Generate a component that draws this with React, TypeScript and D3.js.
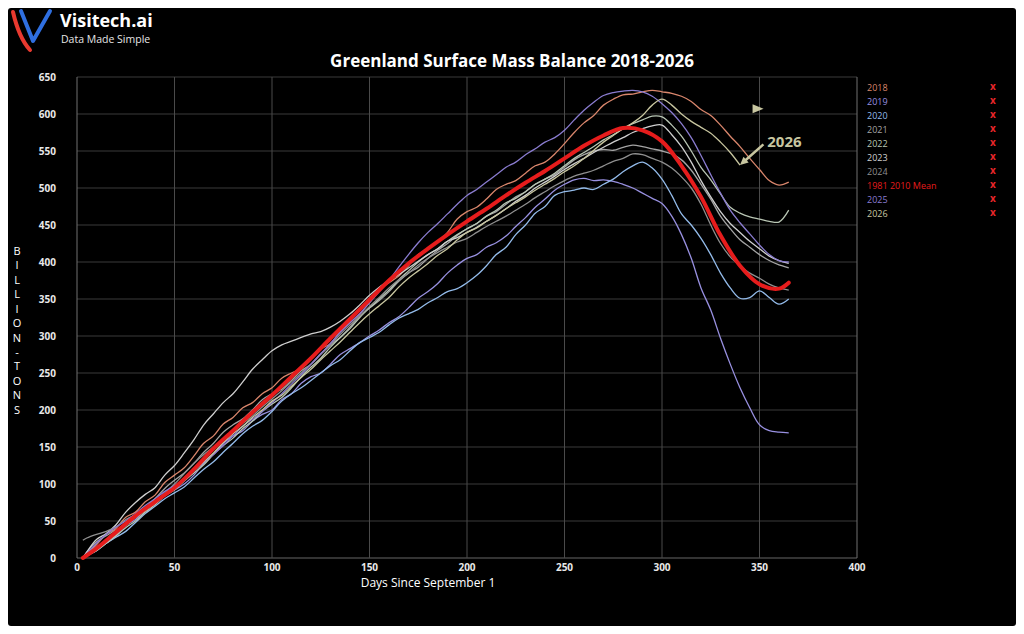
import * as d3 from 'd3'

// days since September 1: 3, then every 5 days up to 365
const DAYS = [3, ...d3.range(5, 366, 5)]
// the 1981-2010 mean was read every 10 days
const MEAN_DAYS = [3, 10, 20, 30, 40, 50, 60, 70, 80, 90, 100, 110, 120, 130, 140, 150, 160, 170, 180, 190, 200, 210, 220, 230, 240, 250, 260, 270, 280, 290, 300, 310, 320, 330, 340, 350, 360, 365]
const MEAN_1981_2010 = [0, 13, 35, 57, 76, 95, 120, 148, 172, 197, 220, 245, 270, 297, 323, 349, 375, 398, 418, 437, 455, 472, 490, 507, 523, 540, 557, 571, 581, 578, 563, 530, 488, 436, 395, 370, 364, 372]

// rows: days 3..45 / 50..95 / 100..145 / 150..195 / 200..245 / 250..295 / 300..345 / 350..365
const Y2018 = [
  0, 6, 18, 32, 40, 55, 62, 76, 85, 102,
  112, 122, 138, 155, 165, 181, 190, 203, 210, 222,
  230, 243, 250, 256, 268, 282, 290, 306, 318, 330,
  345, 362, 372, 381, 395, 410, 418, 427, 440, 458,
  468, 474, 485, 498, 505, 510, 520, 530, 535, 546,
  560, 575, 588, 598, 612, 620, 626, 627, 630, 632,
  630, 628, 624, 617, 606, 598, 585, 570, 556, 540,
  525, 510, 504, 508,
]
const Y2019 = [
  0, 4, 15, 20, 30, 44, 52, 65, 74, 86,
  92, 100, 112, 128, 140, 155, 165, 172, 185, 194,
  200, 214, 222, 236, 245, 250, 262, 275, 283, 291,
  300, 308, 318, 326, 338, 351, 360, 371, 385, 396,
  405, 410, 420, 426, 435, 448, 460, 474, 485, 497,
  505, 511, 513, 510, 511, 509, 505, 500, 493, 486,
  479, 462, 437, 405, 365, 335, 297, 262, 230, 203,
  180, 172, 170, 169,
]
const Y2020 = [
  0, 3, 10, 20, 28, 36, 48, 60, 70, 80,
  88, 96, 108, 120, 130, 143, 155, 168, 178, 186,
  198, 212, 222, 230, 240, 250, 260, 268, 280, 291,
  298, 305, 315, 324, 330, 336, 345, 352, 360, 364,
  372, 382, 395, 410, 420, 437, 450, 466, 475, 490,
  495, 497, 500, 498, 505, 512, 522, 530, 535, 527,
  512, 490, 465, 450, 432, 410, 385, 365, 351, 352,
  361, 352, 343, 350,
]
const Y2021 = [
  0, 8, 22, 30, 38, 44, 55, 68, 80, 94,
  105, 115, 128, 143, 155, 170, 180, 188, 200, 214,
  222, 228, 240, 253, 262, 276, 288, 298, 312, 327,
  338, 348, 360, 374, 385, 393, 405, 416, 425, 436,
  445, 452, 462, 468, 478, 488, 495, 505, 512, 518,
  528, 538, 545, 550, 552, 551, 555, 558, 556, 553,
  550, 546, 538, 524, 505, 485, 462, 445, 430, 420,
  410, 402, 396, 392,
]
const Y2022 = [
  0, 3, 10, 20, 30, 41, 50, 62, 72, 84,
  92, 104, 115, 126, 140, 152, 162, 175, 185, 198,
  208, 217, 230, 245, 258, 270, 285, 298, 310, 325,
  338, 350, 362, 376, 388, 400, 410, 418, 428, 437,
  445, 452, 462, 470, 480, 486, 495, 505, 512, 520,
  530, 540, 548, 556, 565, 572, 580, 587, 592, 597,
  596, 585, 570, 550, 528, 511, 492, 474, 466, 461,
  458, 455, 454, 470,
]
const Y2023 = [
  0, 8, 25, 33, 45, 62, 75, 86, 95, 112,
  125, 142, 160, 180, 195, 210, 222, 238, 255, 268,
  280, 288, 293, 298, 303, 306, 312, 320, 330, 342,
  355, 366, 375, 383, 392, 401, 410, 418, 428, 433,
  440, 447, 455, 463, 472, 482, 490, 500, 508, 516,
  525, 533, 540, 548, 555, 562, 568, 575, 580, 584,
  585, 572, 556, 535, 510, 488, 468, 452, 440, 428,
  418, 408, 402, 398,
]
const Y2024 = [
  24, 27, 32, 36, 42, 52, 58, 64, 75, 88,
  100, 114, 128, 140, 150, 160, 170, 182, 192, 204,
  215, 226, 238, 250, 262, 275, 288, 302, 315, 327,
  340, 352, 365, 376, 385, 396, 405, 413, 420, 427,
  432, 440, 448, 455, 462, 470, 478, 487, 495, 503,
  510, 516, 520, 524, 530, 536, 540, 546, 545, 540,
  535, 527, 515, 500, 478, 450, 425, 407, 395, 385,
  378, 370, 365, 362,
]
const Y2025 = [
  0, 6, 20, 32, 42, 50, 60, 71, 80, 90,
  98, 107, 118, 130, 140, 152, 165, 178, 188, 198,
  210, 222, 235, 248, 262, 276, 290, 305, 318, 330,
  345, 360, 375, 393, 410, 426, 440, 452, 465, 478,
  490, 498, 508, 518, 528, 535, 545, 553, 562, 568,
  578, 592, 605, 616, 625, 629, 631, 632, 630, 624,
  614, 602, 587, 568, 544, 518, 493, 470, 453, 438,
  423, 410, 402, 400,
]
// current season, ends at day 340
const Y2026 = [
  0, 4, 12, 22, 32, 45, 55, 64, 75, 86,
  95, 106, 118, 130, 142, 156, 168, 178, 190, 200,
  212, 220, 232, 244, 255, 268, 280, 292, 305, 318,
  330, 341, 352, 366, 378, 388, 398, 409, 418, 430,
  440, 446, 455, 463, 472, 480, 488, 497, 505, 513,
  522, 530, 540, 551, 562, 571, 580, 588, 598, 612,
  620, 612, 600, 590, 582, 574, 562, 548, 531,
]

const X_TICKS = [0, 50, 100, 150, 200, 250, 300, 350, 400]
const Y_TICKS = [0, 50, 100, 150, 200, 250, 300, 350, 400, 450, 500, 550, 600, 650]
const Y_LABEL = 'BILLION-TONS'

const SERIES = [
  { key: '2018', color: '#d9866c', values: Y2018 },
  { key: '2019', color: '#9890e0', values: Y2019 },
  { key: '2020', color: '#93bbea', values: Y2020 },
  { key: '2021', color: '#a4a4a4', values: Y2021 },
  { key: '2022', color: '#b9c6b4', values: Y2022 },
  { key: '2023', color: '#cfcfcf', values: Y2023 },
  { key: '2024', color: '#8f8f8f', values: Y2024 },
  { key: '2025', color: '#8a7cd0', values: Y2025 },
  { key: '2026', color: '#c8c6a0', values: Y2026 },
]
const MEAN = { key: '1981  2010  Mean', color: '#e61c1c', values: MEAN_1981_2010 }
const LEGEND = [...SERIES.slice(0, 7), MEAN, ...SERIES.slice(7)]

const W = 1008
const H = 618

export default function App() {
  const x = d3.scaleLinear().domain([0, 400]).range([69, 849])
  const y = d3.scaleLinear().domain([0, 650]).range([550, 69])

  const lineOn = (days: number[]) => d3.line<number>()
    .x((_, i) => x(days[i]))
    .y(d => y(d))
    .curve(d3.curveCatmullRom.alpha(0.5))
  const yearLine = lineOn(DAYS)
  const meanLine = lineOn(MEAN_DAYS)

  const font = '"Open Sans", "DejaVu Sans", sans-serif'
  const annot = '#c8c6a0'
  const tip = [x(340), y(531)]
  const tail = [x(352), y(559)]
  const ang = Math.atan2(tip[1] - tail[1], tip[0] - tail[0])
  const head = (len: number, spread: number) =>
    [ang + Math.PI - spread, ang + Math.PI + spread]
      .map(a => `${tip[0] + len * Math.cos(a)},${tip[1] + len * Math.sin(a)}`)
  const tri = [x(349), y(607)]

  return (
    <svg width={W} height={H} style={{ display: 'block', fontFamily: font }}>
      <rect x={0} y={0} width={W} height={H} rx={3} fill="#000" />

      {/* logo */}
      <path d="M5,4 Q11,30 22,42" stroke="#e8392f" strokeWidth={4} fill="none" strokeLinecap="round" />
      <path d="M13,3 L25,33 L42,3" stroke="#2f6fe0" strokeWidth={4} fill="none" strokeLinecap="round" strokeLinejoin="round" />
      <text x={52} y={19} fill="#fff" fontSize={18} fontWeight={700}>Visitech.ai</text>
      <text x={53} y={35} fill="#e6e6e6" fontSize={10.5}>Data Made Simple</text>

      <text x={504} y={59} fill="#fff" fontSize={17} fontWeight={700} textAnchor="middle">
        Greenland Surface Mass Balance 2018-2026
      </text>

      {/* grid */}
      {Y_TICKS.map(t => (
        <line key={'h' + t} x1={x(0)} x2={x(400)} y1={y(t)} y2={y(t)} stroke={t === 0 ? '#666' : '#3a3a3a'} strokeWidth={1} />
      ))}
      {X_TICKS.map(t => (
        <line key={'v' + t} x1={x(t)} x2={x(t)} y1={y(650)} y2={y(0)} stroke={t === 0 || t === 400 ? '#707070' : '#4a4a4a'} strokeWidth={1} />
      ))}

      {Y_TICKS.map(t => (
        <text key={'yl' + t} x={48} y={y(t)} dy="0.35em" fill="#e8e8e8" fontSize={10} fontWeight={700} textAnchor="end">{t}</text>
      ))}
      {X_TICKS.map(t => (
        <text key={'xl' + t} x={x(t)} y={563} fill="#e8e8e8" fontSize={10} fontWeight={700} textAnchor="middle">{t}</text>
      ))}
      <text x={420} y={579} fill="#fff" fontSize={12} textAnchor="middle">Days Since September 1</text>
      {Y_LABEL.split('').map((c, i) => (
        <text key={'c' + i} x={9} y={243 + i * 14.45} dy="0.35em" fill="#fff" fontSize={11} textAnchor="middle">{c}</text>
      ))}

      {/* series */}
      {SERIES.map(s => (
        <path key={s.key} d={yearLine(s.values) || ''} fill="none" stroke={s.color} strokeWidth={1.3} />
      ))}
      <path d={meanLine(MEAN.values) || ''} fill="none" stroke={MEAN.color} strokeWidth={4} strokeLinecap="round" />

      {/* annotation */}
      <polygon points={`${tri[0] + 6},${tri[1]} ${tri[0] - 5},${tri[1] - 4.5} ${tri[0] - 5},${tri[1] + 4.5}`} fill={annot} />
      <line x1={tail[0]} y1={tail[1]} x2={tip[0] - 5 * Math.cos(ang)} y2={tip[1] - 5 * Math.sin(ang)} stroke={annot} strokeWidth={2.5} />
      <polygon points={`${tip[0]},${tip[1]} ${head(9, 0.45).join(' ')}`} fill={annot} />
      <text x={x(354)} y={y(555)} fill={annot} fontSize={15} fontWeight={700}>2026</text>

      {/* legend */}
      {LEGEND.map((s, i) => (
        <g key={s.key} transform={`translate(859,${80 + i * 14})`}>
          <text x={0} y={0} dy="0.35em" fill={s.color} fontSize={9}>{s.key}</text>
          <text x={126} y={-2} dy="0.35em" fill="#e8262a" fontSize={10} fontWeight={700} textAnchor="middle">x</text>
        </g>
      ))}
    </svg>
  )
}
